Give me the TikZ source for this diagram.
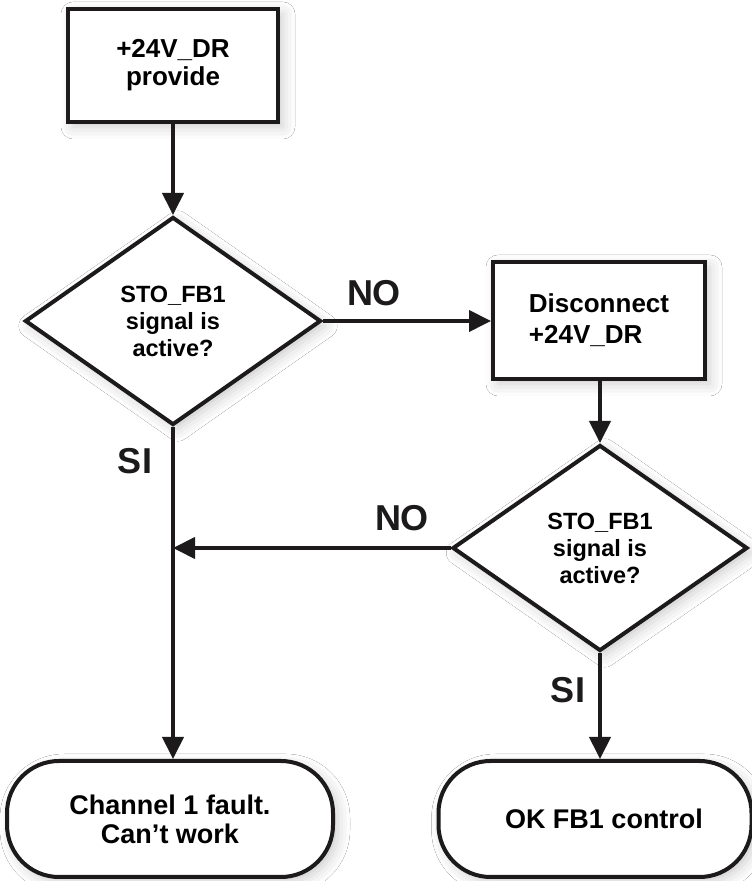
\documentclass[tikz,border=0pt]{standalone}
\usepackage{fontspec}
\setmainfont{Liberation Sans}
\usetikzlibrary{shapes.geometric,arrows.meta,shadows.blur}
\definecolor{ink}{HTML}{1C1A1A}
\begin{document}
\begin{tikzpicture}[x=1pt,y=1pt,
  shade/.style={blur shadow={shadow xshift=5pt,shadow yshift=-5pt,shadow blur radius=12pt,shadow opacity=20}},
  procbox/.style={rectangle,draw=ink,line width=4pt,fill=white,shade,inner sep=0pt},
  decision/.style={diamond,draw=ink,line width=4pt,fill=white,shade,inner sep=0pt,
    minimum width=296pt,minimum height=208pt,align=center,
    font=\bfseries\fontsize{23.5}{27}\selectfont},
  terminal/.style={rectangle,rounded corners=52pt,draw=ink,line width=4pt,fill=white,shade,
    inner sep=0pt,minimum height=116pt,align=center,
    font=\bfseries\fontsize{27}{29}\selectfont},
  flowarrow/.style={draw=ink,line width=4pt,-{Triangle[length=22pt,width=21pt]}},
  lbl/.style={font=\bfseries\fontsize{36}{40}\selectfont,text=ink,inner sep=0pt}]
\useasboundingbox (0,0) rectangle (752,881);
\fill[white] (0,0) rectangle (752,881);

\node[procbox,minimum width=210pt,minimum height=113pt,align=center,
  font=\bfseries\fontsize{26}{28}\selectfont] (box1) at (173,815.5) {+24V\_DR\\provide};
\node[decision] (d1) at (173,560) {STO\_FB1\\signal is\\active?};
\node[procbox,minimum width=212pt,minimum height=117pt,align=left,
  font=\bfseries\fontsize{26}{31}\selectfont] (box2) at (599,560.5) {Disconnect\\+24V\_DR};
\node[decision,minimum width=295pt,minimum height=206pt] (d2) at (600,333) {STO\_FB1\\signal is\\active?};
\node[terminal,minimum width=326pt] (t1) at (170,62) {Channel 1 fault.\\Can’t work};
\node[terminal,minimum width=313pt] (t2) at (595,62) {\hspace*{18pt}OK FB1 control};

\coordinate (j) at (d1.south |- d2.west);

\draw[flowarrow] (box1.south) -- (d1.north);
\draw[flowarrow] (d1.east) -- (d1.east -| box2.west);
\draw[flowarrow] (box2.south -| d2.north) -- (d2.north);
\draw[flowarrow] (d1.south) -- (d1.south |- t1.north);
\draw[flowarrow] (d2.west) -- (j);
\draw[flowarrow] (d2.south) -- (d2.south |- t2.north);

\node[lbl] (no1) at (374,588) {NO};
\node[lbl] (no2) at (402,363) {NO};
\node[lbl] (si1) at (135,420) {SI};
\node[lbl] (si2) at (568,191) {SI};
\end{tikzpicture}
\end{document}
